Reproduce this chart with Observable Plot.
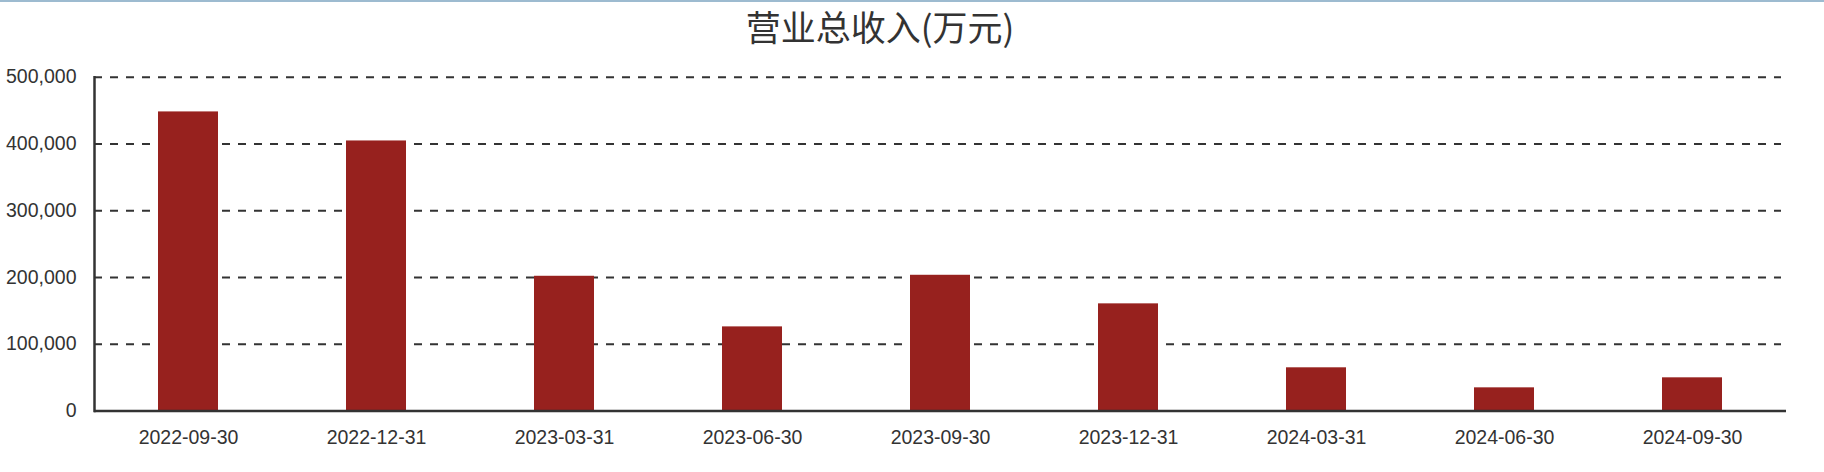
<!DOCTYPE html>
<html>
<head>
<meta charset="utf-8">
<script src="https://cdn.jsdelivr.net/npm/d3@7"></script>
<script src="https://cdn.jsdelivr.net/npm/@observablehq/plot@0.6"></script>
<style>
  html, body { margin: 0; padding: 0; background: #fff; }
  #wrap { position: relative; width: 1824px; height: 472px; overflow: hidden; }
  #topline { position: absolute; top: 0; left: 0; width: 1824px; height: 2px; background: #9dbbd0; }
  #title { position: absolute; top: 0px; left: 880px; transform: translateX(-50%);
           font-family: "Noto Sans CJK SC", sans-serif; font-size: 35px; line-height: normal;
           color: #333; white-space: nowrap; }
  #chart { position: absolute; top: 50px; left: 0; }
</style>
</head>
<body>
<div id="wrap">
  <div id="topline"></div>
  <div id="title"></div>
  <div id="chart"></div>
</div>
<script>
const titleText = "营业总收入(万元)";
const periods = ["2022-09-30","2022-12-31","2023-03-31","2023-06-30","2023-09-30","2023-12-31","2024-03-31","2024-06-30","2024-09-30"];
const revenue = [448000, 404500, 201800, 126000, 203300, 160500, 64700, 34700, 49700];
const yTicks = [0, 100000, 200000, 300000, 400000, 500000];
const gridTicks = [100000, 200000, 300000, 400000, 500000];

document.getElementById("title").textContent = titleText;
const data = periods.map((p, i) => ({period: p, value: revenue[i]}));

const chart = Plot.plot({
  width: 1824,
  height: 422,
  marginLeft: 94,
  marginRight: 38,
  marginTop: 26.7,
  marginBottom: 61.5,
  style: {fontFamily: "'Liberation Sans', Arial, Helvetica, sans-serif", fontSize: "19.5px", color: "#333", background: "#fff"},
  x: {domain: periods, type: "band", paddingInner: 0.68, paddingOuter: 0.34, label: null},
  y: {domain: [0, 500000], label: null},
  marks: [
    Plot.ruleY(gridTicks, {y: d => d, stroke: "#333", strokeWidth: 2, strokeDasharray: "8,8", insetRight: 5}),
    Plot.barY(data, {x: "period", y: "value", fill: "#97211e"}),
    Plot.axisY({ticks: yTicks, tickFormat: d3.format(","), tickSize: 0, tickPadding: 18, fill: "#333", fontSize: "19.5px"}),
    Plot.axisX({tickSize: 0, tickPadding: 19, fill: "#333", fontSize: "19.5px"}),
    Plot.frame({anchor: "left", stroke: "#333", strokeWidth: 2.5}),
    Plot.ruleY([0], {stroke: "#333", strokeWidth: 2.5})
  ]
});
document.getElementById("chart").appendChild(chart);
</script>
</body>
</html>
